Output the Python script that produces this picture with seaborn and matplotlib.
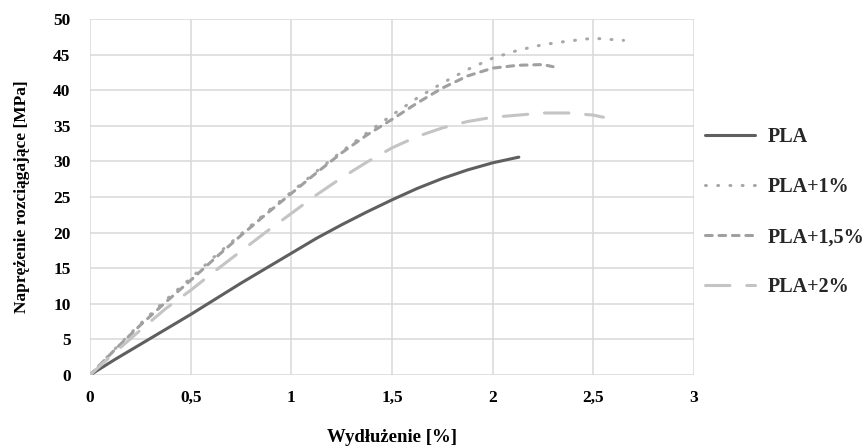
import pandas as pd
import matplotlib
matplotlib.use("Agg")
import matplotlib.pyplot as plt
import seaborn as sns

# =========================
# DATA
# =========================
series_names = ["PLA", "PLA+1%", "PLA+1,5%", "PLA+2%"]

x_pla = [0, 0.125, 0.25, 0.375, 0.5, 0.625, 0.75, 0.875, 1.0, 1.125,
         1.25, 1.375, 1.5, 1.625, 1.75, 1.875, 2.0, 2.13]
y_pla = [0, 2.2, 4.3, 6.4, 8.5, 10.7, 12.9, 15.0, 17.1, 19.2,
         21.1, 22.9, 24.6, 26.2, 27.6, 28.8, 29.8, 30.6]

x_pla1 = [0, 0.125, 0.25, 0.375, 0.5, 0.625, 0.75, 0.875, 1.0, 1.125, 1.25,
          1.375, 1.5, 1.625, 1.75, 1.875, 2.0, 2.125, 2.25, 2.375, 2.5, 2.65]
y_pla1 = [0, 3.7, 7.2, 10.5, 13.6, 16.8, 19.8, 22.8, 25.7, 28.6, 31.4,
          34.0, 36.5, 38.9, 41.0, 42.9, 44.5, 45.6, 46.4, 46.9, 47.3, 47.0]

x_pla15 = [0, 0.125, 0.25, 0.375, 0.5, 0.625, 0.75, 0.875, 1.0, 1.125,
           1.25, 1.375, 1.5, 1.625, 1.75, 1.875, 2.0, 2.125, 2.25, 2.3]
y_pla15 = [0, 3.6, 7.0, 10.2, 13.3, 16.5, 19.6, 22.6, 25.5, 28.4,
           31.2, 33.7, 35.9, 38.2, 40.3, 42.0, 43.1, 43.5, 43.6, 43.3]

x_pla2 = [0, 0.125, 0.25, 0.375, 0.5, 0.625, 0.75, 0.875, 1.0, 1.125, 1.25,
          1.375, 1.5, 1.625, 1.75, 1.875, 2.0, 2.125, 2.25, 2.375, 2.5, 2.55]
y_pla2 = [0, 3.2, 6.3, 9.3, 11.9, 14.7, 17.4, 20.1, 22.7, 25.3, 27.7,
          29.9, 31.9, 33.5, 34.7, 35.6, 36.2, 36.5, 36.8, 36.8, 36.5, 36.2]

x_ticks = [0, 0.5, 1, 1.5, 2, 2.5, 3]
x_ticklabels = ["0", "0,5", "1", "1,5", "2", "2,5", "3"]
y_ticks = [0, 5, 10, 15, 20, 25, 30, 35, 40, 45, 50]

# =========================
# DATAFRAME
# =========================
frames = []
for name, xs, ys in zip(series_names,
                        [x_pla, x_pla1, x_pla15, x_pla2],
                        [y_pla, y_pla1, y_pla15, y_pla2]):
    frames.append(pd.DataFrame({"wydl": xs, "napr": ys, "probka": name}))
df = pd.concat(frames, ignore_index=True)

# =========================
# STYL
# =========================
sns.set_style("white")
plt.rcParams["font.family"] = ["Liberation Serif", "DejaVu Serif"]
plt.rcParams["font.weight"] = "bold"
plt.rcParams["axes.labelweight"] = "bold"

palette = {
    "PLA": "#5f5f5f",
    "PLA+1%": "#a8a8a8",
    "PLA+1,5%": "#a0a0a0",
    "PLA+2%": "#c4c4c4",
}
dashes = {
    "PLA": "",
    "PLA+1%": (0.3, 3.7),
    "PLA+1,5%": (2.2, 2.2),
    "PLA+2%": (8, 5.5),
}

fig = plt.figure(figsize=(8.64, 4.48), dpi=100)
ax = fig.add_axes([90 / 864, 1 - 375 / 448, 604 / 864, 356 / 448])

sns.lineplot(
    data=df, x="wydl", y="napr",
    hue="probka", style="probka",
    hue_order=series_names, style_order=series_names,
    palette=palette, dashes=dashes,
    estimator=None, sort=False, legend=False,
    linewidth=2.2, ax=ax
)

for line in ax.lines:
    line.set_dash_capstyle("round")
    line.set_solid_capstyle("round")

ax.set_xlim(0, 3)
ax.set_ylim(0, 50)
ax.set_xticks(x_ticks)
ax.set_xticklabels(x_ticklabels)
ax.set_yticks(y_ticks)
ax.grid(True, color="#d9d9d9", linewidth=1.1)
ax.set_axisbelow(True)
for s in ax.spines.values():
    s.set_visible(False)
ax.tick_params(axis="both", length=0, labelsize=12.5, colors="#000000")
ax.tick_params(axis="y", pad=14)
ax.tick_params(axis="x", pad=11)

ax.set_xlabel("Wydłużenie [%]", fontsize=13.5, labelpad=16, color="#000000")
ax.set_ylabel("Naprężenie rozciągające [MPa]", fontsize=12.5, labelpad=17, color="#000000")

fig.legend(
    ax.lines[:4], series_names,
    loc="center left", bbox_to_anchor=(705 / 864, 1 - 212 / 448),
    frameon=False, fontsize=14.5, borderpad=0, borderaxespad=0,
    handlelength=2.5, handletextpad=0.6, labelspacing=1.5
)

plt.savefig("out.png", dpi=100)
